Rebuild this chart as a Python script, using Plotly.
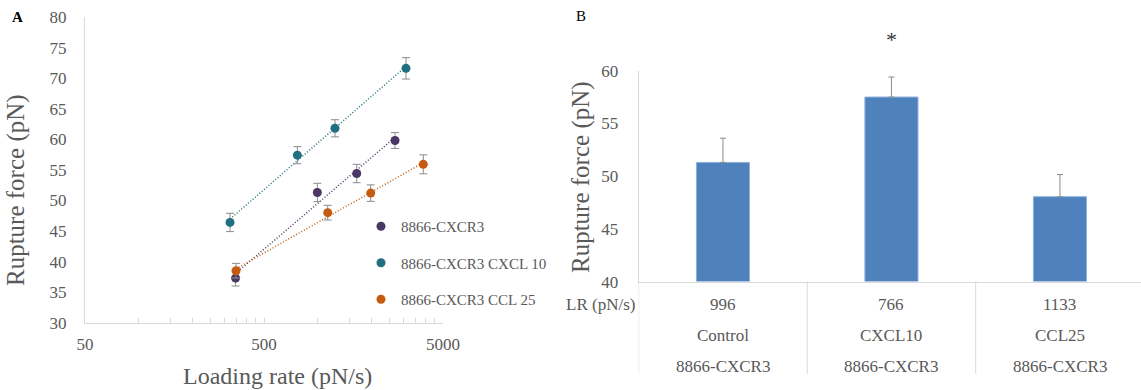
import numpy as np
import plotly.graph_objects as go

# ---------------- data ----------------
series_names = ["8866-CXCR3", "8866-CXCR3 CXCL 10", "8866-CXCR3 CCL 25"]
lr_cxcr3 = [347, 993, 1648, 2697]
f_cxcr3 = [37.3, 51.3, 54.4, 59.8]
e_cxcr3 = [1.3, 1.5, 1.5, 1.3]
lr_cxcl10 = [323, 768, 1246, 3106]
f_cxcl10 = [46.4, 57.4, 61.8, 71.6]
e_cxcl10 = [1.5, 1.4, 1.4, 1.75]
lr_ccl25 = [349, 1135, 1973, 3880]
f_ccl25 = [38.5, 48.0, 51.2, 55.9]
e_ccl25 = [1.2, 1.2, 1.35, 1.55]

bar_categories = ["Control", "CXCL10", "CCL25"]
bar_cells = ["8866-CXCR3", "8866-CXCR3", "8866-CXCR3"]
bar_lr = [996, 766, 1133]
bar_force = [51.3, 57.5, 48.05]
bar_err = [2.3, 1.9, 2.1]
signif = ["", "*", ""]

x_ticks_a = [50, 500, 5000]
y_ticks_a = list(range(30, 81, 5))
y_ticks_b = list(range(40, 61, 5))

# ---------------- style ----------------
FONT = "'Liberation Serif', 'Times New Roman', Times, serif"
GREY = "#595959"
LINE = "#D9D9D9"
colors = ["#4B3764", "#21707F", "#C55A11"]
W, H = 1141, 390

def px(xp):
    return xp / W

def py(yp):
    return (H - yp) / H

fig = go.Figure()

# ---------------- panel A ----------------
series = [(lr_cxcr3, f_cxcr3, e_cxcr3), (lr_cxcl10, f_cxcl10, e_cxcl10), (lr_ccl25, f_ccl25, e_ccl25)]
for i, ((lr, f, e), name, col) in enumerate(zip(series, series_names, colors)):
    # logarithmic trendline (least squares in ln x)
    a, b = np.polyfit(np.log(lr), f, 1)
    xs = np.geomspace(min(lr), max(lr), 50)
    fig.add_trace(go.Scatter(
        x=xs, y=a * np.log(xs) + b, mode="lines",
        line=dict(color=col, width=1.5, dash="1px,2px"),
        showlegend=False, hoverinfo="skip", xaxis="x", yaxis="y"))
    fig.add_trace(go.Scatter(
        x=lr, y=f, mode="markers", name=name, legendgroup=name,
        marker=dict(color=col, size=9),
        error_y=dict(type="data", array=e, color="#8C8C8C", thickness=1, width=4),
        xaxis="x", yaxis="y", cliponaxis=False))

minor_vals = []
for dec in [50, 500]:
    minor_vals += [dec * k for k in range(2, 10)]
minor_vals = [v for v in minor_vals if v < 5000]

fig.update_layout(
    xaxis=dict(
        type="log", domain=[px(85), px(443)], range=[np.log10(50), np.log10(5000)],
        tickvals=x_ticks_a, ticktext=[str(v) for v in x_ticks_a],
        ticks="inside", ticklen=5, tickcolor=LINE,
        minor=dict(tickvals=minor_vals, ticks="inside", ticklen=5, tickcolor=LINE),
        showline=True, linecolor=LINE, linewidth=1, showgrid=False, zeroline=False,
        tickfont=dict(family=FONT, size=17, color=GREY), ticklabelstandoff=6,
        anchor="y", automargin=False),
    yaxis=dict(
        domain=[py(322.7), py(17)], range=[30, 80],
        tickvals=y_ticks_a, ticks="", showline=True, linecolor=LINE, linewidth=1,
        showgrid=False, zeroline=False,
        tickfont=dict(family=FONT, size=17, color=GREY), ticklabelstandoff=14,
        anchor="x", automargin=False),
)

# ---------------- panel B ----------------
xb = list(range(len(bar_categories)))
fig.add_trace(go.Bar(
    x=xb, y=[v - 40 for v in bar_force], base=40, width=0.315,
    marker=dict(color="#4F81BD", line=dict(color="#8DB0DC", width=1)),
    error_y=dict(type="data", array=bar_err, arrayminus=[0] * 3, symmetric=False,
                 color="#8C8C8C", thickness=1, width=3),
    showlegend=False, xaxis="x2", yaxis="y2"))

band_px = 168.5
right_val = -0.5 + (W - 638.7) / band_px
fig.update_layout(
    xaxis2=dict(
        domain=[px(638.7), 1.0], range=[-0.5, right_val],
        showticklabels=False, ticks="", showline=True, linecolor=LINE, linewidth=1,
        showgrid=False, zeroline=False, anchor="y2", automargin=False),
    yaxis2=dict(
        domain=[py(281.6), py(70.7)], range=[40, 60],
        tickvals=y_ticks_b, ticks="", showline=True, linecolor=LINE, linewidth=1,
        showgrid=False, zeroline=False,
        tickfont=dict(family=FONT, size=17, color=GREY), ticklabelstandoff=16,
        anchor="x2", automargin=False),
)

shapes = []
for k in range(len(bar_categories) + 1):
    xv = k - 0.5
    if xv <= right_val:
        shapes.append(dict(type="line", xref="x2", yref="paper", x0=xv, x1=xv,
                           y0=py(374), y1=py(281.6), line=dict(color=LINE, width=1)))

ann = []
tf = dict(family=FONT, size=17, color=GREY)
for i in xb:
    ann.append(dict(x=i, y=py(304), xref="x2", yref="paper", text=str(bar_lr[i]),
                    showarrow=False, font=tf, xanchor="center", yanchor="middle"))
    ann.append(dict(x=i, y=py(335), xref="x2", yref="paper", text=bar_categories[i],
                    showarrow=False, font=tf, xanchor="center", yanchor="middle"))
    ann.append(dict(x=i, y=py(366.5), xref="x2", yref="paper", text=bar_cells[i],
                    showarrow=False, font=tf, xanchor="center", yanchor="middle"))
    if signif[i]:
        ann.append(dict(x=i, y=py(40), xref="x2", yref="paper", text=signif[i],
                        showarrow=False, font=dict(family=FONT, size=22, color="#333333"),
                        xanchor="center", yanchor="middle"))
ann.append(dict(x=px(637), y=py(304), xref="paper", yref="paper", text="LR (pN/s)",
                showarrow=False, font=tf, xanchor="right", yanchor="middle"))

# axis titles and panel letters
ttl = dict(family=FONT, size=25, color=GREY)
ann.append(dict(x=px(16), y=py(190), xref="paper", yref="paper", text="Rupture force (pN)",
                textangle=-90, showarrow=False, font=ttl, xanchor="center", yanchor="middle"))
ann.append(dict(x=px(277), y=py(376), xref="paper", yref="paper", text="Loading rate (pN/s)",
                showarrow=False, font=dict(family=FONT, size=24, color=GREY),
                xanchor="center", yanchor="middle"))
ann.append(dict(x=px(581), y=py(177), xref="paper", yref="paper", text="Rupture force (pN)",
                textangle=-90, showarrow=False, font=ttl, xanchor="center", yanchor="middle"))
ann.append(dict(x=px(17), y=py(17), xref="paper", yref="paper", text="<b>A</b>",
                showarrow=False, font=dict(family=FONT, size=15, color="black"),
                xanchor="center", yanchor="middle"))
ann.append(dict(x=px(581), y=py(16), xref="paper", yref="paper", text="B",
                showarrow=False, font=dict(family=FONT, size=15, color="black"),
                xanchor="center", yanchor="middle"))

fig.update_layout(
    width=W, height=H, margin=dict(l=0, r=0, t=0, b=0, autoexpand=False),
    paper_bgcolor="white", plot_bgcolor="white",
    shapes=shapes, annotations=ann,
    legend=dict(x=px(361), y=py(210), xanchor="left", yanchor="top",
                font=dict(family=FONT, size=15, color=GREY),
                bgcolor="rgba(0,0,0,0)", tracegroupgap=14, itemsizing="trace",
                traceorder="grouped"),
    bargap=0.685,
)

fig.write_html("out.html", config={"displayModeBar": False},
               post_script="document.body.style.margin='0';document.body.style.padding='0';")
